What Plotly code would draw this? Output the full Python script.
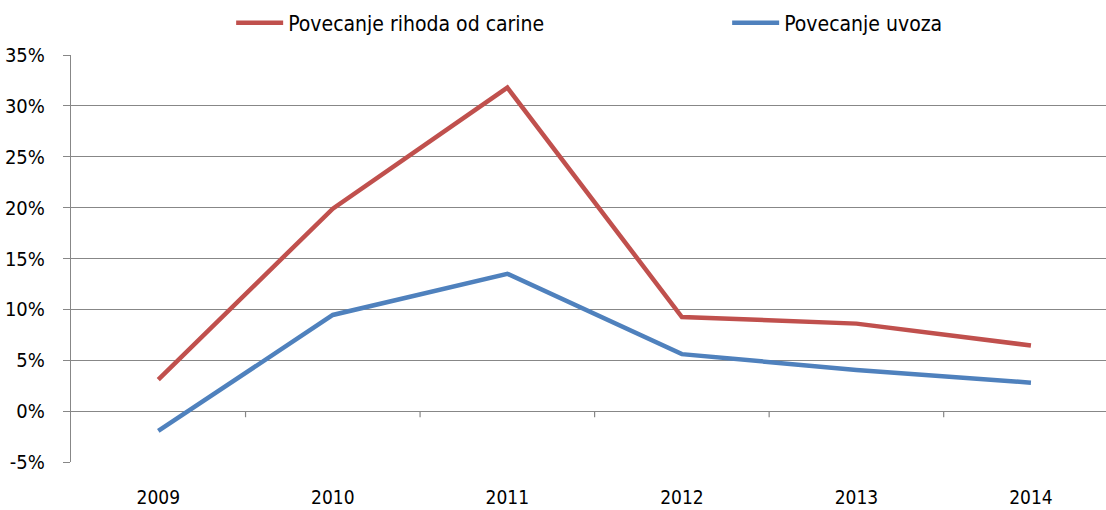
import plotly.graph_objects as go

years = ["2009", "2010", "2011", "2012", "2013", "2014"]
rihod_carine = [3.1, 19.9, 31.8, 9.25, 8.6, 6.45]
uvoz = [-1.95, 9.45, 13.5, 5.6, 4.05, 2.8]
y_ticks = [-5, 0, 5, 10, 15, 20, 25, 30, 35]
y_tick_labels = [f"{v}%" for v in y_ticks]

FONT = "DejaVu Sans Condensed, Lato, sans-serif"
GRID = "#878787"
xpos = list(range(len(years)))

fig = go.Figure()
fig.add_trace(go.Scatter(x=xpos, y=rihod_carine, mode="lines", name="Povecanje rihoda od carine",
                         line=dict(color="#C0504D", width=4.5)))
fig.add_trace(go.Scatter(x=xpos, y=uvoz, mode="lines", name="Povecanje uvoza",
                         line=dict(color="#4F81BD", width=4.5)))

# category-divider tick marks hanging from the 0% axis line
for i in range(len(years) - 1):
    fig.add_shape(type="line", x0=i + 0.5, x1=i + 0.5, y0=0, y1=-0.6,
                  xref="x", yref="y", line=dict(color=GRID, width=1.2))

fig.update_layout(
    width=1106, height=510,
    margin=dict(l=71, r=0, t=55, b=48, autoexpand=False),
    paper_bgcolor="white", plot_bgcolor="white",
    font=dict(family=FONT, size=20, color="#000000"),
    showlegend=True,
    legend=dict(orientation="h", xref="container", yref="container",
                x=0.209, xanchor="left", y=0.995, yanchor="top",
                font=dict(family=FONT, size=21), entrywidth=434, entrywidthmode="pixels",
                itemwidth=47, bgcolor="rgba(0,0,0,0)"),
)

fig.update_xaxes(range=[-0.5, 5.43], tickvals=xpos, ticktext=years, showgrid=False,
                 zeroline=False, showline=False, ticks="", ticklabelstandoff=22,
                 tickfont=dict(family=FONT, size=19))
fig.update_yaxes(range=[-5, 35], tickvals=y_ticks, ticktext=y_tick_labels, showgrid=True,
                 gridcolor=GRID, gridwidth=1.2, zeroline=True, zerolinecolor=GRID, zerolinewidth=1.2,
                 showline=True, linecolor=GRID, linewidth=1.2, ticks="outside", ticklen=7,
                 tickcolor=GRID, tickwidth=1.2, ticklabelstandoff=14, tickfont=dict(family=FONT, size=20))

fig.write_html("out.html", config={"displayModeBar": False},
               post_script="document.body.style.margin='0';")
